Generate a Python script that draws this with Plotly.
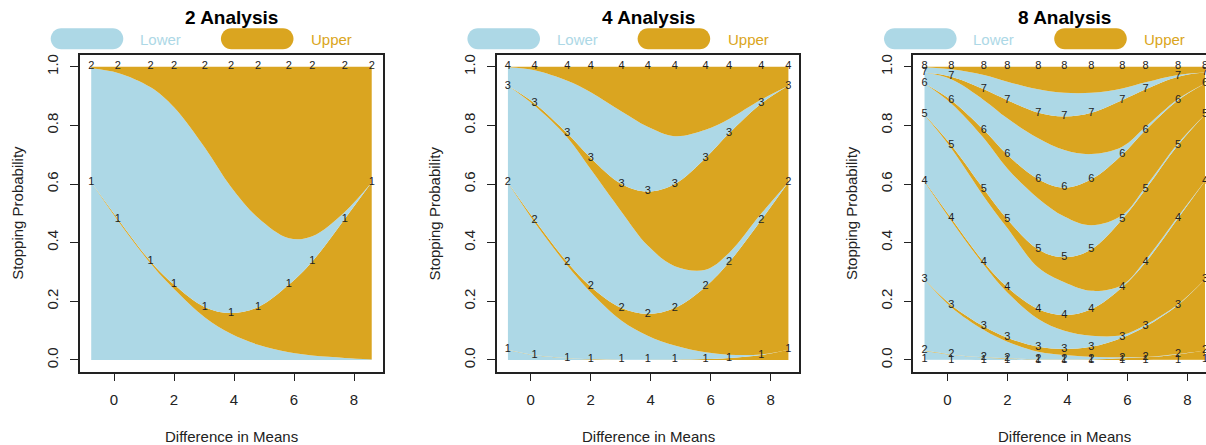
import plotly.graph_objects as go

# ---- data -----------------------------------------------------------------
# treatment effect values at which the stopping probabilities are labelled
delta = [-0.76, 0.13, 1.22, 2.0, 3.03, 3.9, 4.8, 5.83, 6.61, 7.69, 8.59]
ONE = [1.0] * 11

# Two analyses: cumulative boundaries (B = lower-crossing edge, C = cumulative stop)
two_B1 = [0.606, 0.475, 0.329, 0.242, 0.145, 0.089, 0.052, 0.026, 0.015, 0.007, 0.002]
two_C1 = [0.606, 0.481, 0.336, 0.257, 0.180, 0.160, 0.180, 0.257, 0.336, 0.481, 0.606]
two_B2 = [0.995, 0.979, 0.930, 0.862, 0.724, 0.590, 0.485, 0.415, 0.422, 0.505, 0.606]

# Four analyses
four_B1 = [0.034, 0.016, 0.006, 0.002, 0.0005, 0.0002, 0.0001, 0.0, 0.0, 0.0, 0.0]
four_C1 = [0.035, 0.017, 0.007, 0.003, 0.001, 0.001, 0.001, 0.003, 0.007, 0.017, 0.035]
four_B2 = [0.605, 0.469, 0.322, 0.231, 0.134, 0.083, 0.049, 0.026, 0.018, 0.019, 0.035]
four_C2 = [0.606, 0.478, 0.333, 0.250, 0.177, 0.157, 0.177, 0.250, 0.333, 0.478, 0.606]
four_B3 = [0.935, 0.867, 0.759, 0.650, 0.505, 0.390, 0.320, 0.308, 0.365, 0.500, 0.606]
four_C3 = [0.935, 0.875, 0.773, 0.689, 0.600, 0.574, 0.600, 0.689, 0.773, 0.875, 0.935]
four_B4 = [0.998, 0.988, 0.952, 0.913, 0.847, 0.795, 0.763, 0.785, 0.822, 0.888, 0.935]

# Eight analyses
eight_B1 = [0.001, 0.0005, 0.0, 0.0, 0.0, 0.0, 0.0, 0.0, 0.0, 0.0, 0.0]
eight_C1 = [0.001, 0.0005, 0.0, 0.0, 0.0, 0.0, 0.0, 0.0, 0.0, 0.0005, 0.001]
eight_B2 = [0.031, 0.018, 0.008, 0.004, 0.001, 0.0005, 0.0002, 0.0001, 0.0001, 0.0005, 0.001]
eight_C2 = [0.032, 0.019, 0.009, 0.006, 0.002, 0.002, 0.002, 0.006, 0.009, 0.019, 0.032]
eight_B3 = [0.274, 0.180, 0.102, 0.0625, 0.028, 0.017, 0.011, 0.009, 0.010, 0.020, 0.032]
eight_C3 = [0.275, 0.1875, 0.114, 0.076, 0.045, 0.0375, 0.045, 0.076, 0.114, 0.1875, 0.275]
eight_B4 = [0.608, 0.475, 0.324, 0.230, 0.140, 0.100, 0.083, 0.085, 0.120, 0.190, 0.275]
eight_C4 = [0.610, 0.483, 0.333, 0.248, 0.173, 0.153, 0.173, 0.248, 0.333, 0.483, 0.610]
eight_B5 = [0.835, 0.722, 0.557, 0.450, 0.315, 0.265, 0.236, 0.256, 0.341, 0.489, 0.610]
eight_C5 = [0.8375, 0.733, 0.582, 0.480, 0.377, 0.350, 0.377, 0.480, 0.582, 0.733, 0.8375]
eight_B6 = [0.943, 0.875, 0.756, 0.653, 0.551, 0.489, 0.459, 0.494, 0.591, 0.739, 0.8375]
eight_C6 = [0.943, 0.886, 0.784, 0.700, 0.616, 0.5875, 0.616, 0.700, 0.784, 0.886, 0.943]
eight_B7 = [0.980, 0.957, 0.886, 0.824, 0.756, 0.716, 0.702, 0.727, 0.795, 0.890, 0.943]
eight_C7 = [0.980, 0.966, 0.923, 0.886, 0.843, 0.830, 0.843, 0.886, 0.923, 0.966, 0.980]
eight_B8 = [0.998, 0.991, 0.972, 0.949, 0.923, 0.911, 0.911, 0.926, 0.947, 0.972, 0.980]

panels = [
    ("2 Analysis", [(two_B1, two_C1), (two_B2, ONE)]),
    ("4 Analysis", [(four_B1, four_C1), (four_B2, four_C2), (four_B3, four_C3), (four_B4, ONE)]),
    ("8 Analysis", [(eight_B1, eight_C1), (eight_B2, eight_C2), (eight_B3, eight_C3),
                    (eight_B4, eight_C4), (eight_B5, eight_C5), (eight_B6, eight_C6),
                    (eight_B7, eight_C7), (eight_B8, ONE)]),
]

y_ticks = [0.0, 0.2, 0.4, 0.6, 0.8, 1.0]
x_ticks = [0, 2, 4, 6, 8]

# ---- styling ----------------------------------------------------------------
W, H = 1206, 445
LOWER = "#ADD8E6"
UPPER = "#DAA520"
FONT = "Arial, Liberation Sans, Helvetica, sans-serif"
box_left = [80.0, 496.7, 913.3]
box_right = [383.0, 799.3, 1206.0]
box_top, box_bottom = 55.0, 371.7
px_per_unit = 30.0
x_lo = -1.134


def px(x):
    return x / W


def py(y):
    return 1 - y / H


fig = go.Figure()
shapes = []
annotations = []

for i, (title, layers) in enumerate(panels):
    n = i + 1
    xa = "x" if n == 1 else f"x{n}"
    ya = "y" if n == 1 else f"y{n}"

    # stacked areas: blue up to lower-crossing edge, gold up to cumulative stop
    fig.add_trace(go.Scatter(x=delta, y=[0.0] * len(delta), mode="lines",
                             line=dict(width=0, shape="spline"), xaxis=xa, yaxis=ya,
                             showlegend=False, hoverinfo="skip"))
    for b, c in layers:
        fig.add_trace(go.Scatter(x=delta, y=b, mode="lines", fill="tonexty",
                                 fillcolor=LOWER, line=dict(width=0, shape="spline"),
                                 xaxis=xa, yaxis=ya, showlegend=False, hoverinfo="skip"))
        fig.add_trace(go.Scatter(x=delta, y=c, mode="lines", fill="tonexty",
                                 fillcolor=UPPER, line=dict(width=0, shape="spline"),
                                 xaxis=xa, yaxis=ya, showlegend=False, hoverinfo="skip"))

    # analysis numbers along each cumulative curve
    for k, (b, c) in enumerate(layers, start=1):
        fig.add_trace(go.Scatter(x=delta, y=c, mode="text", text=[str(k)] * len(delta),
                                 textfont=dict(family=FONT, size=11, color="#222222"),
                                 textposition="middle center", cliponaxis=False,
                                 xaxis=xa, yaxis=ya, showlegend=False, hoverinfo="skip"))

    x_hi = x_lo + (box_right[i] - box_left[i]) / px_per_unit
    last = n == 3
    fig.layout[f"xaxis{'' if n == 1 else n}"] = dict(
        domain=[px(box_left[i]), px(box_right[i])], range=[x_lo, x_hi],
        anchor=ya, tickvals=x_ticks, ticktext=[str(t) for t in x_ticks],
        ticks="outside", ticklen=8, tickwidth=1.2, tickcolor="#222",
        showline=True, linecolor="#222", linewidth=1.5, mirror=True,
        showgrid=False, zeroline=False, ticklabelstandoff=6,
        tickfont=dict(family=FONT, size=15, color="#222"))
    fig.layout[f"yaxis{'' if n == 1 else n}"] = dict(
        domain=[py(box_bottom), py(box_top)], range=[-0.04, 1.04],
        anchor=xa, tickvals=y_ticks, ticktext=[f"{t:.1f}" for t in y_ticks],
        tickangle=-90, ticks="outside", ticklen=8, tickwidth=1.2, tickcolor="#222",
        showline=True, linecolor="#222", linewidth=1.5, mirror=not last,
        showgrid=False, zeroline=False, ticklabelstandoff=6,
        tickfont=dict(family=FONT, size=15, color="#222"))

    left = box_left[i]
    centre = left + 151.5
    annotations.append(dict(text=f"<b>{title}</b>", x=px(centre), y=py(17.3), xref="paper",
                            yref="paper", xanchor="center", yanchor="middle", showarrow=False,
                            font=dict(family=FONT, size=19, color="black")))
    annotations.append(dict(text="Difference in Means", x=px(centre), y=py(436.5), xref="paper",
                            yref="paper", xanchor="center", yanchor="middle", showarrow=False,
                            font=dict(family=FONT, size=15, color="#222")))
    annotations.append(dict(text="Stopping Probability", x=px(left - 62.5), y=py(213.3),
                            xref="paper", yref="paper", xanchor="center", yanchor="middle",
                            textangle=-90, showarrow=False,
                            font=dict(family=FONT, size=15, color="#222")))

    # legend: rounded swatches with coloured labels
    for dx, col, lab, tx in [(7.0, LOWER, "Lower", 58.0), (177.2, UPPER, "Upper", 229.0)]:
        w, h = 72.6, 21.0
        r = h / 2
        a = w / 2 - r
        k = 0.5523 * r
        path = (f"M {-a},{-r} L {a},{-r} C {a + k},{-r} {a + r},{-k} {a + r},0 "
                f"C {a + r},{k} {a + k},{r} {a},{r} L {-a},{r} "
                f"C {-a - k},{r} {-a - r},{k} {-a - r},0 "
                f"C {-a - r},{-k} {-a - k},{-r} {-a},{-r} Z")
        shapes.append(dict(type="path", path=path, xref="paper", yref="paper",
                           xsizemode="pixel", ysizemode="pixel",
                           xanchor=px(left + dx), yanchor=py(38.8),
                           fillcolor=col, line=dict(width=0)))
        annotations.append(dict(text=lab, x=px(left + tx), y=py(39.0), xref="paper",
                                yref="paper", xanchor="left", yanchor="middle",
                                showarrow=False, font=dict(family=FONT, size=15, color=col)))

fig.update_layout(width=W, height=H, margin=dict(l=0, r=0, t=0, b=0),
                  paper_bgcolor="white", plot_bgcolor="white",
                  shapes=shapes, annotations=annotations, showlegend=False)

fig.write_html("out.html")
